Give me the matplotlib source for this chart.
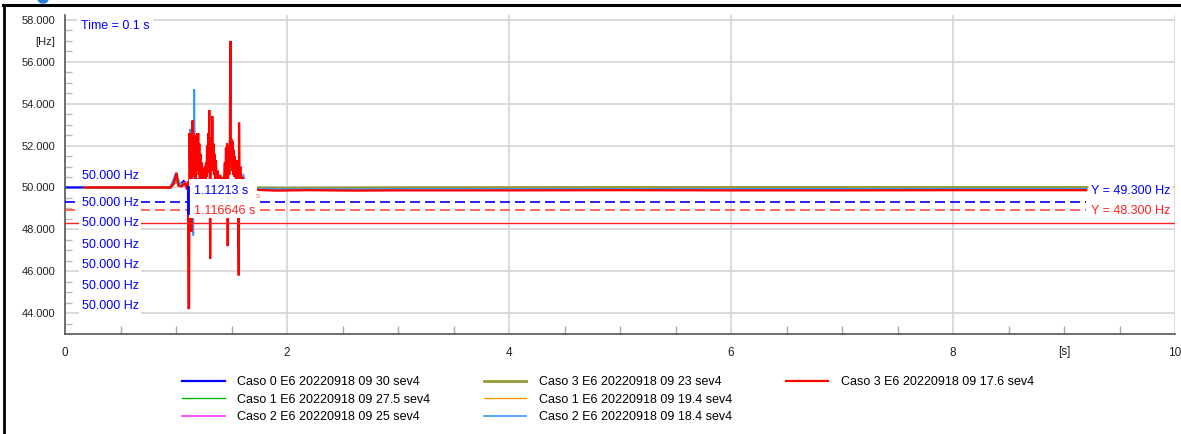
import matplotlib
matplotlib.use("Agg")
import matplotlib.pyplot as plt
from matplotlib.lines import Line2D
from matplotlib.patches import Rectangle, Ellipse
import matplotlib.transforms as mtransforms

plt.rcParams['font.family'] = ['Liberation Sans', 'DejaVu Sans']

# ---------------- data ----------------
legend_labels = [
    "Caso 0 E6 20220918 09 30 sev4",
    "Caso 1 E6 20220918 09 27.5 sev4",
    "Caso 2 E6 20220918 09 25 sev4",
    "Caso 3 E6 20220918 09 23 sev4",
    "Caso 1 E6 20220918 09 19.4 sev4",
    "Caso 2 E6 20220918 09 18.4 sev4",
    "Caso 3 E6 20220918 09 17.6 sev4",
]
series_colors = ["#0000ff", "#00b400", "#ff33ff", "#999933", "#ff9900", "#3399ff", "#ff0000"]
series_widths = [1.6, 1.0, 1.2, 2.0, 1.0, 1.2, 1.6]

t_c0 = [0, 0.95, 1.0, 1.03, 1.07, 1.12, 1.2, 1.3, 1.45, 1.6, 1.75, 2.0, 3.0, 5.0, 9.2]
f_c0 = [50, 50, 50.6, 50.1, 50.3, 49.9, 50.4, 50.1, 50.3, 50.1, 49.95, 49.96, 49.94, 49.95, 49.96]

t_c1a = [0.18, 0.95, 1.0, 1.04, 1.08, 1.12, 1.2, 1.35, 1.5, 1.7, 2.0, 3.0, 5.0, 9.2]
f_c1a = [50, 50, 50.4, 50.1, 50.2, 49.9, 50.3, 50.1, 50.2, 49.95, 49.9, 49.92, 49.93, 49.94]

t_c2a = [0.18, 0.95, 1.0, 1.04, 1.08, 1.12, 1.2, 1.35, 1.5, 1.7, 2.0, 3.0, 5.0, 9.2]
f_c2a = [50, 50, 50.5, 50.1, 50.25, 49.9, 50.35, 50.1, 50.25, 49.9, 49.88, 49.88, 49.89, 49.9]

t_c3a = [0.18, 0.95, 1.0, 1.04, 1.08, 1.12, 1.2, 1.35, 1.5, 1.7, 2.0, 3.0, 5.0, 9.2]
f_c3a = [50, 50, 50.3, 50.1, 50.2, 49.95, 50.2, 50.05, 50.15, 49.98, 49.97, 49.99, 50.0, 50.0]

t_c1b = [0.18, 0.95, 1.0, 1.04, 1.08, 1.12, 1.135, 1.147, 1.155, 1.2, 1.35, 1.5, 1.7, 2.0, 3.0, 5.0, 9.2]
f_c1b = [50, 50, 50.5, 50.1, 50.2, 49.9, 50.4, 52.85, 50.2, 50.3, 50.1, 50.2, 49.93, 49.9, 49.91, 49.92, 49.92]

t_c2b = [0.18, 0.95, 1.0, 1.04, 1.08, 1.12, 1.127, 1.133, 1.14, 1.148, 1.156, 1.16, 1.165, 1.172,
         1.2, 1.35, 1.5, 1.6, 1.606, 1.63, 1.66, 1.67, 1.69, 2.0, 3.0, 5.0, 9.2]
f_c2b = [50, 50, 50.7, 50.1, 50.2, 49.9, 52.8, 50.4, 52.6, 50.6, 47.7, 50.8, 54.7, 50.5,
         50.3, 50.1, 50.2, 50.1, 50.65, 50.1, 50.05, 50.3, 49.95, 49.92, 49.93, 49.93, 49.94]

t_c3b = [0.18, 0.95, 0.98, 1.005, 1.02, 1.05, 1.08, 1.10, 1.108, 1.112, 1.118, 1.122, 1.128, 1.133,
         1.138, 1.143, 1.149, 1.155, 1.16, 1.165, 1.17, 1.175, 1.18, 1.185, 1.19, 1.195, 1.20,
         1.205, 1.21, 1.215, 1.22, 1.225, 1.23, 1.235, 1.24, 1.25, 1.26, 1.265, 1.27, 1.275, 1.28,
         1.285, 1.29, 1.295, 1.30, 1.304, 1.308, 1.312, 1.318, 1.322, 1.327, 1.332, 1.337, 1.342,
         1.347, 1.352, 1.36, 1.365, 1.375, 1.385, 1.40, 1.41, 1.42, 1.43, 1.44, 1.445, 1.45, 1.455,
         1.46, 1.466, 1.47, 1.475, 1.48, 1.485, 1.49, 1.495, 1.50, 1.505, 1.51, 1.515, 1.52, 1.525,
         1.53, 1.54, 1.55, 1.558, 1.565, 1.568, 1.572, 1.58, 1.59, 1.60, 1.62, 1.65, 1.75, 1.9,
         2.2, 2.6, 3.0, 4.0, 5.0, 6.0, 7.0, 8.0, 9.2]
f_c3b = [50.0, 50.0, 50.2, 50.7, 50.1, 50.05, 50.2, 49.9, 50.3, 44.2, 44.25, 52.6, 49.8, 51.5,
         47.9, 52.2, 53.2, 50.5, 52.6, 51.0, 52.5, 50.2, 52.1, 51.0, 52.6, 50.8, 52.6,
         50.6, 52.1, 50.4, 51.6, 50.5, 51.2, 50.3, 50.9, 50.2, 51.0, 50.3, 51.2, 50.5, 52.0,
         50.7, 52.6, 51.2, 53.7, 50.5, 46.6, 50.2, 52.4, 50.8, 53.4, 51.0, 52.1, 50.6,
         51.6, 50.4, 51.3, 50.2, 50.8, 50.2, 50.6, 50.1, 50.5, 50.1, 51.2, 50.2, 51.9, 50.5,
         52.1, 47.2, 51.0, 52.0, 50.6, 52.2, 57.0, 51.3, 52.3, 50.8, 52.2, 50.6, 51.8, 50.5,
         51.5, 50.4, 51.3, 50.4, 45.8, 53.1, 50.6, 51.0, 50.2, 50.5, 50.0, 49.95, 49.88, 49.85,
         49.87, 49.85, 49.86, 49.86, 49.87, 49.86, 49.86, 49.87, 49.87]

series_t = [t_c0, t_c1a, t_c2a, t_c3a, t_c1b, t_c2b, t_c3b]
series_f = [f_c0, f_c1a, f_c2a, f_c3a, f_c1b, f_c2b, f_c3b]

cursor_blue_level = 49.3
cursor_red_dash_level = 48.94
cursor_red_level = 48.3
cursor_end_t = 9.2
cursor_t = 1.112

left_value_labels_y = [50.56, 49.26, 48.30, 47.27, 46.31, 45.31, 44.36]
yticks = [44, 46, 48, 50, 52, 54, 56, 58]
xticks = [0, 2, 4, 6, 8, 10]

# ---------------- figure ----------------
W, H = 1181, 434
fig = plt.figure(figsize=(W / 100, H / 100), dpi=100)
ax = fig.add_axes([65 / W, 1 - 334 / H, 1110 / W, 319 / H])
ax.set_xlim(0, 10)
ax.set_ylim(43.0, 58.24)

grid_c = "#d4d4d4"
for yv in yticks:
    ax.axhline(yv, color=grid_c, lw=1.2, zorder=0)
for xv in [2, 4, 6, 8, 10]:
    ax.axvline(xv, color=grid_c, lw=1.2, zorder=0)

lines = []
for t, f, c, w, lab in zip(series_t, series_f, series_colors, series_widths, legend_labels):
    ln, = ax.plot(t, f, color=c, lw=w, label=lab, zorder=2, solid_joinstyle='miter')
    lines.append(ln)

# cursor lines
ax.plot([0, cursor_end_t], [cursor_blue_level] * 2, color="#0000ff", lw=1.2,
        linestyle=(0, (6, 3)), zorder=3)
ax.plot([0, cursor_end_t], [cursor_red_dash_level] * 2, color="#ff4a4a", lw=1.2,
        linestyle=(0, (6, 3)), zorder=3)
ax.axhline(cursor_red_level, color="#ff2020", lw=1.0, zorder=3)

# cursor box
ax.add_patch(Rectangle((1.117, 48.55), 0.61, 1.86, facecolor="white", edgecolor="none", zorder=5))
ax.plot([cursor_t, cursor_t], [48.8, 50.0], color="#0000ff", lw=2.0, zorder=6)
ax.text(1.162, 49.81, "1.11213 s", color="#0000ff", fontsize=9, va="center", ha="left", zorder=7)
ax.text(1.162, 48.86, "1.116646 s", color="#ff2020", fontsize=9, va="center", ha="left", zorder=7)
ax.text(1.715, 49.55, "s", color="#ff7070", fontsize=6, va="center", ha="left", zorder=7)

# left value labels
for yv in left_value_labels_y:
    ax.text(0.153, yv, "50.000 Hz", color="#0000ff", fontsize=9, va="center", ha="left", zorder=8,
            bbox=dict(boxstyle="square,pad=0.2", facecolor="white", edgecolor="none"))

ax.text(0.145, 57.71, "Time = 0.1 s", color="#0000ff", fontsize=9, va="center", ha="left", zorder=8,
        bbox=dict(boxstyle="square,pad=0.3", facecolor="white", edgecolor="none"))

ax.text(9.24, 49.81, "Y = 49.300 Hz", color="#0000ff", fontsize=9, va="center", ha="left", zorder=8,
        bbox=dict(boxstyle="square,pad=0.15", facecolor="white", edgecolor="none"))
ax.text(9.24, 48.86, "Y = 48.300 Hz", color="#ff2020", fontsize=9, va="center", ha="left", zorder=8,
        bbox=dict(boxstyle="square,pad=0.15", facecolor="white", edgecolor="none"))

# axes styling
for s in ["top", "right"]:
    ax.spines[s].set_visible(False)
ax.spines["left"].set_color("#555555")
ax.spines["bottom"].set_color("#555555")
ax.spines["left"].set_linewidth(1.2)
ax.spines["bottom"].set_linewidth(1.2)

ax.set_yticks(yticks)
ax.set_yticklabels([f"{v:.3f}" for v in yticks])
ax.set_xticks(xticks)
ax.set_xticklabels([str(v) for v in xticks])
ax.set_yticks([v / 2 for v in range(87, 117)], minor=True)
ax.set_xticks([v / 2 for v in range(0, 21)], minor=True)
ax.tick_params(axis="y", which="major", length=0, pad=7, labelsize=8, labelcolor="#222222")
ax.tick_params(axis="x", which="major", length=0, pad=9, labelsize=8.5, labelcolor="#222222")
ax.tick_params(axis="y", which="minor", direction="in", length=5, color="#bbbbbb", width=1)
ax.tick_params(axis="x", which="minor", direction="in", length=6, color="#aaaaaa", width=1)

blend_y = mtransforms.blended_transform_factory(ax.transAxes, ax.transData)
ax.text(-0.009, 56.94, "[Hz]", transform=blend_y, fontsize=8, ha="right", va="center", color="#222222")
blend_x = mtransforms.blended_transform_factory(ax.transData, ax.transAxes)
ax.text(9.0, -0.057, "[s]", transform=blend_x, fontsize=8.5, ha="center", va="center", color="#222222")

# legend (two invisible entries so the columns hold 3, 3 and 1 items)
blank = Line2D([], [], alpha=0)
leg_handles = lines + [blank, blank]
leg_labels = legend_labels + ["", ""]
fig.legend(handles=leg_handles, labels=leg_labels, loc="upper left",
           bbox_to_anchor=(182 / W, 1 - 376 / H), ncol=3, frameon=False, fontsize=9,
           handlelength=3.4, handletextpad=1.0, columnspacing=4.3, labelspacing=0.45,
           borderpad=0, borderaxespad=0)

# outer frame
fig.add_artist(Line2D([3 / W, 1.0], [1 - 5 / H, 1 - 5 / H], color="black", lw=2.2,
                      transform=fig.transFigure))
fig.add_artist(Line2D([4 / W, 4 / W], [0, 1 - 5 / H], color="black", lw=2.0,
                      transform=fig.transFigure))
fig.add_artist(Ellipse((43 / W, 1 + 1 / H), 10 / W, 8 / H, color="#2a7fd4",
                       transform=fig.transFigure, clip_on=False))

fig.savefig("out.png", dpi=100)
